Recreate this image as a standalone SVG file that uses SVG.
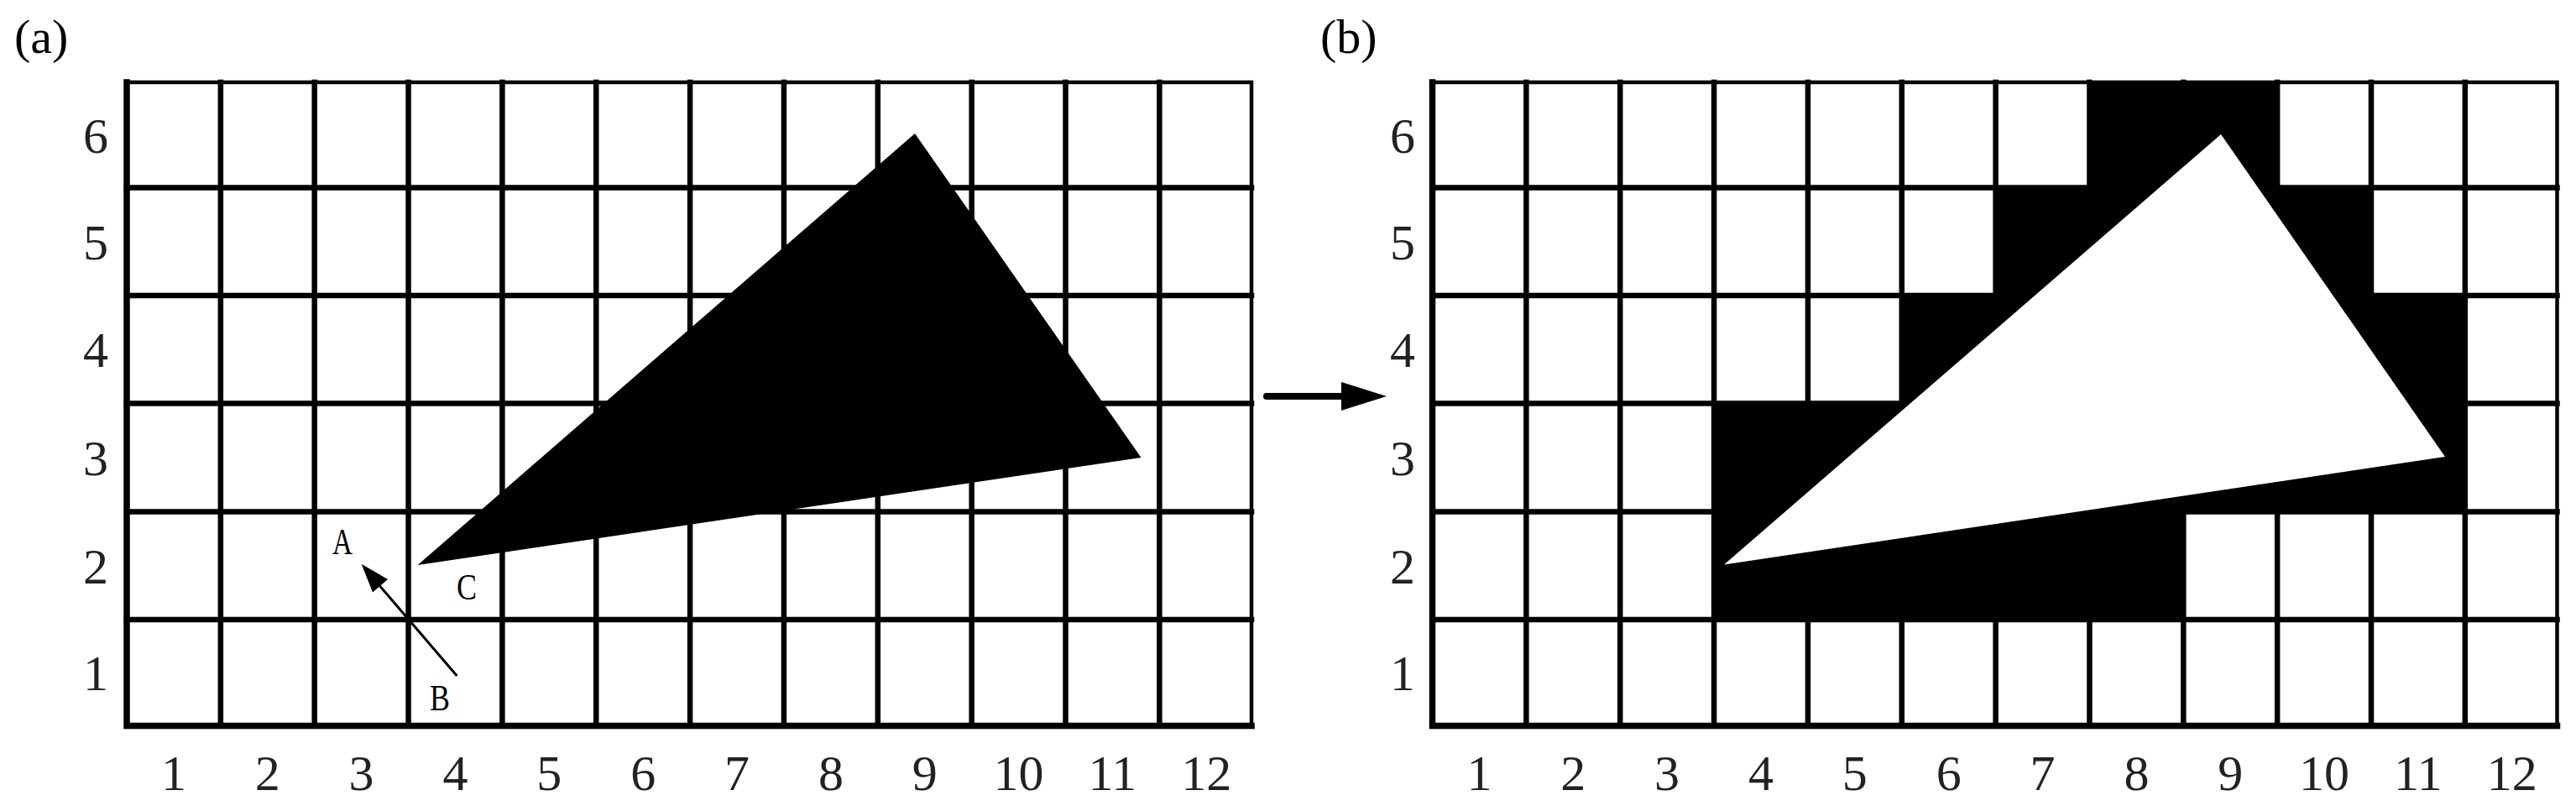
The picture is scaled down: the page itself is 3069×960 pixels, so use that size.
<svg xmlns="http://www.w3.org/2000/svg" width="3069" height="960" viewBox="0 0 3069 960">
<style>
.grid{stroke:#000;stroke-width:6.5;fill:none;stroke-linecap:square}
.axis{stroke:#000;stroke-width:8;fill:none;stroke-linecap:square}
.thin{stroke:#000;stroke-width:4.5;fill:none;stroke-linecap:square}
.num{font-family:"Liberation Serif","Times New Roman",serif;font-size:60px;fill:#222;text-anchor:middle}
.panel{font-family:"Liberation Serif","Times New Roman",serif;font-size:58px;fill:#000}
.pt{font-family:"Liberation Serif","Times New Roman",serif;font-size:44px;fill:#000}
</style>
<rect x="0" y="0" width="3069" height="960" fill="#fff"/>

<g id="panel-a">
  <text class="panel" x="17" y="63">(a)</text>
  <g id="grid-a">
    <path class="grid" d="M262.85 98V864.5M374.7 98V864.5M486.55 98V864.5M598.4 98V864.5M710.25 98V864.5M822.1 98V864.5M933.95 98V864.5M1045.8 98V864.5M1157.65 98V864.5M1269.5 98V864.5M1381.35 98V864.5"/>
    <path class="grid" d="M151 223.5H1491M151 352H1491M151 480.5H1491M151 609.5H1491M151 738H1491"/>
    <path class="thin" d="M151 98H1491V864.5"/>
    <path class="axis" d="M151 98V864.5H1491" style="stroke-width:7.5"/>
  </g>
  <polygon id="triangle-a" points="497.5,673 1090,159 1359.5,545" fill="#000"/>
  <g id="labels-a">
    <text class="num" x="114" y="182">6</text>
    <text class="num" x="114" y="309">5</text>
    <text class="num" x="114" y="437">4</text>
    <text class="num" x="114" y="566">3</text>
    <text class="num" x="114" y="695">2</text>
    <text class="num" x="114" y="822">1</text>
    <text class="num" x="206.9" y="941">1</text>
    <text class="num" x="318.8" y="941">2</text>
    <text class="num" x="430.6" y="941">3</text>
    <text class="num" x="542.5" y="941">4</text>
    <text class="num" x="654.3" y="941">5</text>
    <text class="num" x="766.2" y="941">6</text>
    <text class="num" x="878.0" y="941">7</text>
    <text class="num" x="989.9" y="941">8</text>
    <text class="num" x="1101.7" y="941">9</text>
    <text class="num" x="1213.6" y="941">10</text>
    <text class="num" x="1325.4" y="941">11</text>
    <text class="num" x="1437.3" y="941">12</text>
  </g>
  <g id="point-labels">
    <text class="pt" x="396" y="660" textLength="24" lengthAdjust="spacingAndGlyphs">A</text>
    <text class="pt" x="512" y="846" textLength="24" lengthAdjust="spacingAndGlyphs">B</text>
    <text class="pt" x="544" y="714" textLength="24" lengthAdjust="spacingAndGlyphs">C</text>
  </g>
</g>

<g id="panel-b">
  <text class="panel" x="1573" y="63">(b)</text>
  <path id="raster-b" fill="#000" d="M2489.45 98H2713.15V223.5H2825V352H2936.85V609.5H2601.3V738H2042.05V480.5H2265.75V352H2377.6V223.5H2489.45Z"/>
  <g id="grid-b">
    <path class="grid" d="M1818.35 98V864.5M1930.2 98V864.5M2042.05 98V864.5M2153.9 98V864.5M2265.75 98V864.5M2377.6 98V864.5M2489.45 98V864.5M2601.3 98V864.5M2713.15 98V864.5M2825 98V864.5M2936.85 98V864.5"/>
    <path class="grid" d="M1706.5 223.5H3046.5M1706.5 352H3046.5M1706.5 480.5H3046.5M1706.5 609.5H3046.5M1706.5 738H3046.5"/>
    <path class="thin" d="M1706.5 98H3046.5V864.5"/>
    <path class="axis" d="M1706.5 98V864.5H3046.5" style="stroke-width:7.5"/>
  </g>
  <polygon id="triangle-b" points="2054,672.5 2646,160 2913,544" fill="#fff"/>
  <g id="labels-b">
    <text class="num" x="1671" y="182">6</text>
    <text class="num" x="1671" y="309">5</text>
    <text class="num" x="1671" y="437">4</text>
    <text class="num" x="1671" y="566">3</text>
    <text class="num" x="1671" y="695">2</text>
    <text class="num" x="1671" y="822">1</text>
    <text class="num" x="1762.4" y="941">1</text>
    <text class="num" x="1874.3" y="941">2</text>
    <text class="num" x="1986.1" y="941">3</text>
    <text class="num" x="2098.0" y="941">4</text>
    <text class="num" x="2209.8" y="941">5</text>
    <text class="num" x="2321.7" y="941">6</text>
    <text class="num" x="2433.5" y="941">7</text>
    <text class="num" x="2545.4" y="941">8</text>
    <text class="num" x="2657.2" y="941">9</text>
    <text class="num" x="2769.1" y="941">10</text>
    <text class="num" x="2880.9" y="941">11</text>
    <text class="num" x="2992.8" y="941">12</text>
  </g>
</g>

<g id="connectors">
  <line x1="544.4" y1="805" x2="450" y2="695" stroke="#000" stroke-width="3"/>
  <polygon points="430.6,671.7 444,705.5 462,690" fill="#000"/>
  <line x1="1509" y1="472" x2="1602" y2="472" stroke="#000" stroke-width="8" stroke-linecap="round"/>
  <polygon points="1598,455 1652,472 1598,489" fill="#000"/>
</g>
</svg>
